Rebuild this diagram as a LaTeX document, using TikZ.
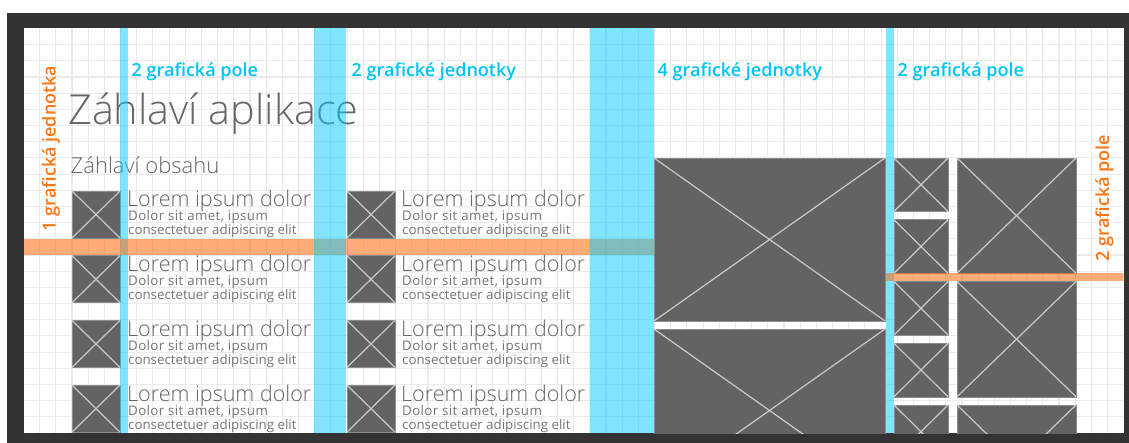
\documentclass[tikz,border=0pt]{standalone}
\usepackage{fontspec}
\setmainfont{Open Sans}
\IfFontExistsTF{Open Sans Light}{\newfontfamily\lightfont{Open Sans Light}}{\newfontfamily\lightfont{Open Sans}}
\IfFontExistsTF{Open Sans Semibold}{\newfontfamily\semifont{Open Sans Semibold}}{\newfontfamily\semifont{Open Sans}}
\usetikzlibrary{positioning}

\definecolor{framegray}{HTML}{333333}
\definecolor{gridgray}{HTML}{EBEBEB}
\definecolor{tilegray}{HTML}{636363}
\definecolor{tileedge}{HTML}{8C8C8C}
\definecolor{crossgray}{HTML}{CACACA}
\definecolor{colblue}{RGB}{0,204,255}
\definecolor{bandorange}{RGB}{255,105,10}
\definecolor{labelblue}{RGB}{0,196,245}
\definecolor{labelorange}{RGB}{255,118,20}
\definecolor{textgray}{HTML}{666666}

\begin{document}
\begin{tikzpicture}[
    x=1pt, y=-1pt,
    gridline/.style={gridgray, line width=1.1pt},
    tile/.style={fill=tilegray, draw=tileedge, line width=0.5pt, inner sep=0pt, outer sep=0pt, anchor=north west},
    thumb/.style={tile, minimum width=48, minimum height=47},
    cross/.style={crossgray, line width=1.2pt},
    colbar/.style={fill=colblue, fill opacity=0.5},
    band/.style={fill=bandorange, fill opacity=0.55},
    unitlabel/.style={font=\semifont\fontsize{18}{20}\selectfont, text=labelblue, anchor=base west, inner sep=0pt},
    sidelabel/.style={font=\semifont\fontsize{18}{20}\selectfont, text=labelorange, rotate=90, anchor=base, inner sep=0pt},
    apptitle/.style={font=\lightfont\fontsize{41.4}{46}\selectfont, text=textgray, anchor=base west, inner sep=0pt},
    sectitle/.style={font=\lightfont\fontsize{22}{24}\selectfont, text=textgray, anchor=base west, inner sep=0pt},
    itemtitle/.style={font=\lightfont\fontsize{21.5}{23}\selectfont, text=textgray, anchor=base west, inner sep=0pt},
    itemtext/.style={font=\fontsize{13.3}{15}\selectfont, text=textgray!90, anchor=base west, inner sep=0pt},
    itemtext wide/.style={itemtext, font={\fontsize{13.3}{15}\selectfont\addfontfeature{LetterSpace=3}}},
]

\def\gu{16.18}   % grid unit
\def\ox{23.5}    % inner area, left
\def\oy{28.5}    % inner area, top
\def\rowh{64.7}  % list row pitch

% Background and frame
\useasboundingbox (0,0) rectangle (1129,443);
\fill[white] (0,0) rectangle (1129,443);
\fill[framegray] (7,13) rectangle (1129,443);
\fill[white] (\ox,\oy) rectangle (1123.5,433);

\begin{scope}
\clip (\ox,\oy) rectangle (1123.5,433);

% Grid
\foreach \i in {1,...,67}
    \draw[gridline] ({\ox+\i*\gu},\oy) -- ({\ox+\i*\gu},433);
\foreach \j in {1,...,24}
    \draw[gridline] (\ox,{\oy+\j*\gu}) -- (1123.5,{\oy+\j*\gu});

% Titles
\node[apptitle] (apphead) at (68,125) {Záhlaví aplikace};
\node[sectitle] (sechead) at (70.5,174) {Záhlaví obsahu};

% Two lists
\foreach \r in {0,...,3} {
    \pgfmathsetmacro\ty{191+\rowh*\r}
    \node[thumb] (ta\r) at (72,\ty) {};
    \draw[cross] (ta\r.north west) -- (ta\r.south east) (ta\r.north east) -- (ta\r.south west);
    \node[itemtitle] (la\r) at (127,{\ty+16}) {Lorem ipsum dolor};
    \node[itemtext wide] (da\r) at (128,{\ty+30}) {Dolor sit amet, ipsum};
    \node[itemtext] (ca\r) at (128,{\ty+44}) {consectetuer adipiscing elit};
    \node[thumb] (tb\r) at (347,\ty) {};
    \draw[cross] (tb\r.north west) -- (tb\r.south east) (tb\r.north east) -- (tb\r.south west);
    \node[itemtitle] (lb\r) at (401,{\ty+16}) {Lorem ipsum dolor};
    \node[itemtext wide] (db\r) at (402,{\ty+30}) {Dolor sit amet, ipsum};
    \node[itemtext] (cb\r) at (402,{\ty+44}) {consectetuer adipiscing elit};
}

% Large tiles
\node[tile, minimum width=231, minimum height=163] (big1) at (654,158) {};
\node[tile, minimum width=231, minimum height=163] (big2) at (654,329) {};
\foreach \n in {big1,big2}
    \draw[cross] (\n.north west) -- (\n.south east) (\n.north east) -- (\n.south west);

% Snapped column tiles
\foreach \k in {0,...,4} {
    \node[tile, minimum width=54, minimum height=53.5] (sm\k) at (894,{158+61.75*\k}) {};
    \draw[cross] (sm\k.north west) -- (sm\k.south east) (sm\k.north east) -- (sm\k.south west);
}
\foreach \k in {0,1,2} {
    \node[tile, minimum width=119, minimum height=115.25] (md\k) at (957,{158+123.5*\k}) {};
    \draw[cross] (md\k.north west) -- (md\k.south east) (md\k.north east) -- (md\k.south west);
}

% Columns and bands
\fill[colbar] (120,\oy) rectangle (128,433);
\fill[colbar] (885.5,\oy) rectangle (894,433);
\fill[band] (\ox,{\oy+13*\gu}) rectangle (654,{\oy+14*\gu});
\fill[band] (885.5,273) rectangle (1123.5,281);
\fill[colbar] (314,\oy) rectangle (346,433);
\fill[colbar] (590,\oy) rectangle (654,433);
\end{scope}

% Labels
\node[unitlabel] (u1) at (131.5,77) {2 grafická pole};
\node[unitlabel] (u2) at (351.5,77) {2 grafické jednotky};
\node[unitlabel] (u3) at (657.5,77) {4 grafické jednotky};
\node[unitlabel] (u4) at (897.5,77) {2 grafická pole};
\node[sidelabel] (s1) at (55.5,148.5) {1 grafická jednotka};
\node[sidelabel] (s2) at (1109,198) {2 grafická pole};

\end{tikzpicture}
\end{document}
